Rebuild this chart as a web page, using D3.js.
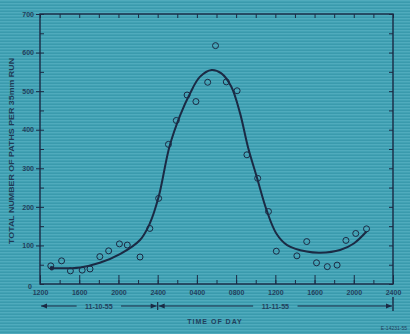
<!DOCTYPE html>
<html>
<head>
<meta charset="utf-8">
<script src="https://cdn.jsdelivr.net/npm/d3@7/dist/d3.min.js"></script>
<style>
  html, body { margin: 0; padding: 0; background: #42a2b4; }
  svg { display: block; }
  text { font-family: "Liberation Sans", "DejaVu Sans", sans-serif; }
</style>
</head>
<body>
<svg id="chart" width="410" height="334"></svg>
<script>
// Observed path counts (open circles): hour of run, counted from 0000 on 11-10-55
const pointHours = [13.1, 14.2, 15.1, 16.3, 17.1, 18.1, 19.0, 20.1, 20.9, 22.2, 23.2, 24.1,
                    25.1, 25.9, 27.0, 27.9, 29.1, 29.9, 31.0, 32.1, 33.1, 34.2, 35.3, 36.1,
                    38.2, 39.2, 40.2, 41.3, 42.3, 43.2, 44.2, 45.3];
const pointPaths = [47, 60, 34, 36, 39, 71, 86, 104, 101, 70, 144, 222,
                    362, 424, 490, 473, 523, 618, 524, 501, 335, 274, 188, 85,
                    73, 110, 55, 45, 49, 113, 131, 143];

// Smoothed curve drawn through the counts
const curveHours = [13.2, 16.1, 18.1, 20.2, 22.2, 23.2, 24.1, 25.2, 26.3, 27.3, 28.3, 29.5,
                    30.5, 31.5, 32.4, 33.2, 34.1, 35.1, 36.1, 37.2, 39.2, 40.6, 42.6, 44.0, 45.3];
const curvePaths = [41, 43, 55, 78, 114, 157, 226, 356, 438, 494, 537, 555,
                    546, 512, 443, 356, 278, 192, 131, 101, 84, 81, 88, 105, 136];

// Axis ticks
const xMajorHours = [12, 16, 20, 24, 28, 32, 36, 40, 44, 48];
const xTickLabels = ["1200", "1600", "2000", "2400", "0400", "0800", "1200", "1600", "2000", "2400"];
const xMinorHours = d3.range(12, 49, 2);
const yMajor = [0, 100, 200, 300, 400, 500, 600, 700];
const yMinor = d3.range(0, 701, 50);

const ink = "#1b2a44";
const svg = d3.select("#chart");

// paper texture: fine horizontal scan lines
const defs = svg.append("defs");
const pat = defs.append("pattern").attr("id", "scan")
  .attr("patternUnits", "userSpaceOnUse").attr("width", 6).attr("height", 3);
pat.append("rect").attr("width", 6).attr("height", 3).attr("fill", "#42a2b4");
pat.append("rect").attr("y", 0).attr("width", 6).attr("height", 1).attr("fill", "#56b0c1").attr("opacity", 0.7);
pat.append("rect").attr("y", 2).attr("width", 6).attr("height", 1).attr("fill", "#3594a8").attr("opacity", 0.6);
svg.append("rect").attr("width", 410).attr("height", 334).attr("fill", "url(#scan)");

const x = d3.scaleLinear().domain([12, 48]).range([40, 393]);
const y = d3.scaleLinear().domain([0, 700]).range([284, 14]);

// frame
svg.append("rect")
  .attr("x", x(12)).attr("y", y(700))
  .attr("width", x(48) - x(12)).attr("height", y(0) - y(700))
  .attr("fill", "none").attr("stroke", ink).attr("stroke-width", 1.4);

function styleAxis(g) {
  g.select(".domain").remove();
  g.selectAll("line").attr("stroke", ink).attr("stroke-width", 1);
  g.selectAll("text").attr("fill", "#22405c").attr("font-size", 7).attr("font-weight", "bold");
}

// bottom: minor ticks every 2 h, major every 4 h with labels
svg.append("g").attr("transform", `translate(0,${y(0)})`)
  .call(d3.axisBottom(x).tickValues(xMinorHours).tickSize(-4).tickFormat(""))
  .call(styleAxis);
svg.append("g").attr("transform", `translate(0,${y(0)})`)
  .call(d3.axisBottom(x).tickValues(xMajorHours).tickSize(-9).tickPadding(6)
    .tickFormat((d, i) => xTickLabels[i]))
  .call(styleAxis);

// top: inward ticks
svg.append("g").attr("transform", `translate(0,${y(700)})`)
  .call(d3.axisTop(x).tickValues(xMinorHours).tickSize(-4).tickFormat(""))
  .call(styleAxis);

// left: labels with short outward ticks, inward minor ticks
svg.append("g").attr("transform", `translate(${x(12)},0)`)
  .call(d3.axisLeft(y).tickValues(yMajor.filter(d => d > 0)).tickSize(4).tickPadding(2).tickFormat(d3.format("d")))
  .call(styleAxis);
svg.append("g").attr("transform", `translate(${x(12)},0)`)
  .call(d3.axisLeft(y).tickValues(yMinor).tickSize(-4).tickFormat(""))
  .call(styleAxis);
svg.append("text").attr("x", x(12) - 8).attr("y", y(0) + 5)
  .attr("text-anchor", "end").attr("fill", "#22405c")
  .attr("font-size", 7).attr("font-weight", "bold").text("0");

// right: inward ticks
svg.append("g").attr("transform", `translate(${x(48)},0)`)
  .call(d3.axisRight(y).tickValues(yMinor).tickSize(-4).tickFormat(""))
  .call(styleAxis);

// y-axis title
svg.append("text")
  .attr("transform", `translate(14,${(y(0) + y(700)) / 2 + 2}) rotate(-90)`)
  .attr("text-anchor", "middle").attr("fill", "#1f3a55")
  .attr("font-size", 7.5).attr("font-weight", "bold")
  .attr("textLength", 186).attr("lengthAdjust", "spacingAndGlyphs")
  .text("TOTAL NUMBER OF PATHS PER 35mm RUN");

// fitted curve
const line = d3.line().x((d, i) => x(curveHours[i])).y(d => y(d)).curve(d3.curveCatmullRom.alpha(0.5));
svg.append("path").datum(curvePaths)
  .attr("d", line).attr("fill", "none").attr("stroke", ink).attr("stroke-width", 2);
svg.append("circle").attr("cx", x(curveHours[0])).attr("cy", y(curvePaths[0]))
  .attr("r", 2.2).attr("fill", ink);

// observed points
svg.append("g").selectAll("circle").data(pointPaths).join("circle")
  .attr("cx", (d, i) => x(pointHours[i])).attr("cy", d => y(d))
  .attr("r", 3).attr("fill", "none").attr("stroke", ink).attr("stroke-width", 1);

// date span arrows under the time axis
const rowY = 306;
const dateG = svg.append("g").attr("stroke", ink).attr("fill", ink);
function arrowHead(px, dir) {
  dateG.append("path")
    .attr("d", `M${px},${rowY} L${px - dir * 6},${rowY - 2.5} L${px - dir * 6},${rowY + 2.5} Z`)
    .attr("stroke", "none");
}
function span(h0, h1, label) {
  const x0 = x(h0) + 1, x1 = x(h1) - 1, xm = (x0 + x1) / 2;
  const half = label.length * 2.4 + 3;
  dateG.append("line").attr("x1", x0).attr("x2", xm - half).attr("y1", rowY).attr("y2", rowY).attr("stroke-width", 1);
  dateG.append("line").attr("x1", xm + half).attr("x2", x1).attr("y1", rowY).attr("y2", rowY).attr("stroke-width", 1);
  arrowHead(x0, -1);
  arrowHead(x1, 1);
  svg.append("text").attr("x", xm).attr("y", rowY + 2.5).attr("text-anchor", "middle")
    .attr("fill", "#22405c").attr("font-size", 7).attr("font-weight", "bold").text(label);
}
span(12, 24, "11-10-55");
span(24, 48, "11-11-55");
dateG.append("line").attr("x1", x(24)).attr("x2", x(24)).attr("y1", rowY - 4).attr("y2", rowY + 4).attr("stroke-width", 1.2);
dateG.append("line").attr("x1", x(48)).attr("x2", x(48)).attr("y1", rowY - 9).attr("y2", rowY + 5).attr("stroke-width", 1.4);

// x-axis title
svg.append("text").attr("x", 215).attr("y", 324).attr("text-anchor", "middle")
  .attr("fill", "#22405c").attr("font-size", 7).attr("font-weight", "bold")
  .attr("letter-spacing", 1).text("TIME OF DAY");

// plate number
svg.append("text").attr("x", 407).attr("y", 330).attr("text-anchor", "end")
  .attr("fill", "#22405c").attr("font-size", 5).text("E-14231-55");
</script>
</body>
</html>
